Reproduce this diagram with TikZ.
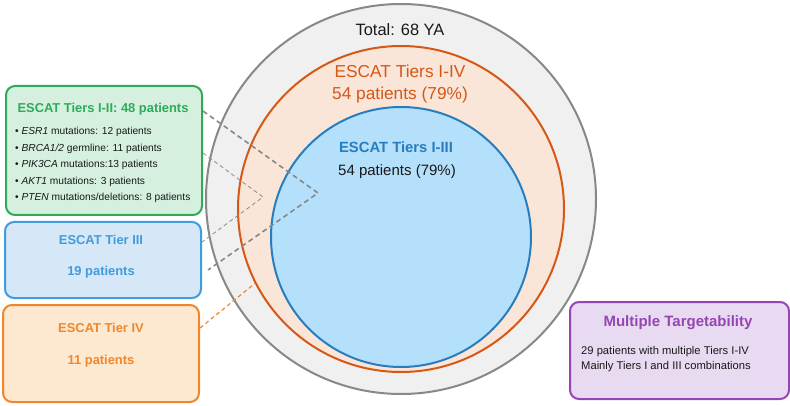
\documentclass[tikz,border=0pt]{standalone}
\usepackage{fontspec}
\setmainfont{Liberation Sans}
\usetikzlibrary{positioning,calc}
\definecolor{ink}{RGB}{25,25,25}
\definecolor{totL}{RGB}{136,136,136}
\definecolor{totF}{RGB}{240,240,240}
\definecolor{allL}{RGB}{214,88,22}
\definecolor{allF}{RGB}{250,229,217}
\definecolor{topL}{RGB}{40,125,190}
\definecolor{topF}{RGB}{180,224,252}
\definecolor{t12}{RGB}{46,170,90}
\definecolor{t12F}{RGB}{214,240,224}
\definecolor{t3}{RGB}{65,155,220}
\definecolor{t3F}{RGB}{214,232,247}
\definecolor{t4}{RGB}{240,135,45}
\definecolor{t4F}{RGB}{253,232,208}
\definecolor{multi}{RGB}{150,70,180}
\definecolor{multiF}{RGB}{232,218,240}
\tikzset{
  ring/.style={circle,inner sep=0pt,line width=2pt},
  tbox/.style={rounded corners=9pt,line width=2pt,minimum width=196pt},
  ttl/.style={font=\fontsize{12.9}{15}\selectfont\bfseries,inner sep=0pt},
  body/.style={align=left,inner sep=0pt},
  lnkA/.style={totL,line width=1.6pt,dash pattern=on 5pt off 3.5pt},
  lnkB/.style={totL!90,line width=0.9pt,dash pattern=on 4pt off 3pt},
}
\newcommand{\gene}[1]{\textit{#1}}

\begin{document}
\begin{tikzpicture}[x=1pt,y=-1pt]
  \useasboundingbox (0,0) rectangle (790,406);
  % nested circles
  \node[ring,draw=totL,fill=totF,minimum size=390pt] (c68) at (401,199) {};
  \node[ring,draw=allL,fill=allF,minimum size=326pt] (c14) at (401,209) {};
  \node[ring,draw=topL,fill=topF,minimum size=260pt] (c13) at (401,237) {};
  \node[font=\fontsize{16.4}{19}\selectfont,text=ink] (totT) at (400,30) {Total: 68 YA};
  \node[font=\fontsize{17.3}{22}\selectfont,text=allL,align=center] (allT) at (400,84)
   {ESCAT Tiers I-IV\\54 patients (79\%)};
  \node[font=\fontsize{14.8}{18}\selectfont\bfseries,text=topL] (topT) at (396,147) {ESCAT Tiers I-III};
  \node[font=\fontsize{15}{18}\selectfont,text=ink] (topN) at (397,172) {54 patients (79\%)};

  % tier boxes
  \node[tbox,draw=t12,fill=t12F,minimum height=129pt] (g) at (104,150.5) {};
  \node[ttl,text=t12] (gT) at (103,109) {ESCAT Tiers I-II: 48 patients};
  \node[body,anchor=west,font=\fontsize{10.2}{16.5}\selectfont,text=ink] (gL) at (15,165)
   {\textbullet\ \gene{ESR1} mutations: 12 patients\\
    \textbullet\ \gene{BRCA1/2} germline: 11 patients\\
    \textbullet\ \gene{PIK3CA} mutations:13 patients\\
    \textbullet\ \gene{AKT1} mutations: 3 patients\\
    \textbullet\ \gene{PTEN} mutations/deletions: 8 patients};

  \node[tbox,draw=t3,fill=t3F,minimum height=76pt] (b) at (103,260) {};
  \node[ttl,text=t3] (bT) at (101,240) {ESCAT Tier III};
  \node[ttl,text=t3] (bN) at (101,272) {19 patients};

  \node[tbox,draw=t4,fill=t4F,minimum height=97pt] (o) at (101,353.5) {};
  \node[ttl,text=t4] (oT) at (101,328) {ESCAT Tier IV};
  \node[ttl,text=t4] (oN) at (101,361) {11 patients};

  \node[tbox,draw=multi,fill=multiF,minimum width=219pt,minimum height=97pt] (m) at (679.5,350.5) {};
  \node[ttl,font=\fontsize{15}{18}\selectfont\bfseries,text=multi] (mT) at (678,323) {Multiple Targetability};
  \node[body,anchor=west,font=\fontsize{11.2}{15}\selectfont,text=ink] (mL) at (581,359.5)
   {29 patients with multiple Tiers I-IV\\Mainly Tiers I and III combinations};

  % dashed links
  \coordinate (apA) at (318,193);
  \coordinate (apB) at (263,197);
  \draw[lnkA] ([yshift=39.5pt]g.east) -- (apA) -- ([xshift=6pt,yshift=-10pt]b.east);
  \draw[lnkB] ([yshift=-2.5pt]g.east) -- (apB) -- ([yshift=18pt]b.east);
  \draw[t4,line width=1.2pt,dash pattern=on 4pt off 3pt] ([yshift=25.5pt]o.east) -- (c14.207.5);
\end{tikzpicture}
\end{document}
